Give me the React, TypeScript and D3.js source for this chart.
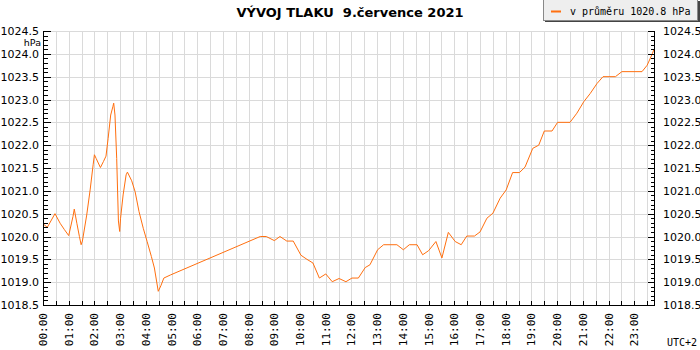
import React, { useEffect, useRef } from 'react';
import * as d3 from 'd3';

// minutes since midnight (UTC+2)
const minutes = [
  0, 10, 28, 40, 50, 60, 70, 73, 79, 85, 89, 92, 102, 110, 117, 120, 124, 134, 141, 147,
  152, 158, 163, 165, 168, 172, 176, 179, 181, 187, 194, 197, 207, 215, 224, 234, 243, 253,
  260, 269, 275, 282, 298, 507, 521, 540, 553, 569, 584, 602, 616, 630, 645, 660, 675, 691,
  707, 721, 736, 752, 763, 781, 795, 826, 841, 855, 873, 886, 900, 917, 931, 946, 962, 976,
  989, 1007, 1020, 1036, 1050, 1067, 1081, 1096, 1112, 1125, 1143, 1157, 1170, 1188, 1201,
  1230, 1246, 1262, 1277, 1293, 1307, 1336, 1351, 1398, 1410, 1422, 1426,
];

// pressure, hPa
const pressure = [
  1020.28, 1020.2, 1020.5, 1020.29, 1020.15, 1020.02, 1020.44, 1020.6, 1020.29, 1020.0,
  1019.82, 1019.9, 1020.47, 1021.02, 1021.57, 1021.79, 1021.71, 1021.51, 1021.64, 1021.76,
  1022.15, 1022.66, 1022.84, 1022.92, 1022.66, 1021.71, 1020.34, 1020.11, 1020.4, 1020.91,
  1021.35, 1021.41, 1021.22, 1020.98, 1020.55, 1020.18, 1019.89, 1019.56, 1019.31, 1018.8,
  1018.92, 1019.09, 1019.16, 1020.0, 1020.0, 1019.91, 1020.0, 1019.9, 1019.9, 1019.59,
  1019.5, 1019.42, 1019.09, 1019.18, 1019.01, 1019.08, 1019.01, 1019.09, 1019.09, 1019.32,
  1019.38, 1019.71, 1019.82, 1019.82, 1019.71, 1019.82, 1019.82, 1019.6, 1019.69, 1019.89,
  1019.53, 1020.09, 1019.89, 1019.82, 1020.01, 1020.01, 1020.1, 1020.4, 1020.51, 1020.84,
  1021.02, 1021.4, 1021.4, 1021.52, 1021.93, 1022.0, 1022.31, 1022.31, 1022.5, 1022.5,
  1022.7, 1022.95, 1023.13, 1023.35, 1023.5, 1023.5, 1023.61, 1023.61, 1023.75, 1024.0,
  1024.1,
];

const hourLabels = [
  '00:00', '01:00', '02:00', '03:00', '04:00', '05:00', '06:00', '07:00', '08:00', '09:00',
  '10:00', '11:00', '12:00', '13:00', '14:00', '15:00', '16:00', '17:00', '18:00', '19:00',
  '20:00', '21:00', '22:00', '23:00',
];

const yMajor = [1018.5, 1019.0, 1019.5, 1020.0, 1020.5, 1021.0, 1021.5, 1022.0, 1022.5, 1023.0, 1023.5, 1024.0, 1024.5];

const title = 'VÝVOJ TLAKU  9.července 2021';
const legendLabel = 'v průměru 1020.8 hPa';
const unitLabel = 'hPa';
const zoneLabel = 'UTC+2';

export default function App() {
  const svgRef = useRef<SVGSVGElement | null>(null);

  useEffect(() => {
    if (!svgRef.current) return;
    const width = 700;
    const height = 350;
    const left = 43;
    const right = 654;
    const top = 31;
    const bottom = 305;
    const lineColor = '#ff6f0f';
    const sans = '"DejaVu Sans", sans-serif';
    const mono = '"DejaVu Sans Mono", monospace';

    const root = d3.select(svgRef.current);
    root.selectAll('*').remove();
    root.attr('width', width).attr('height', height);

    const svg = root.append('g');
    svg.append('rect').attr('width', width).attr('height', height).attr('fill', '#fff');

    const x = d3.scaleLinear().domain([0, minutes[minutes.length - 1]]).range([left, right]);
    const y = d3.scaleLinear().domain([1018.5, 1024.5]).range([bottom, top]);
    const px = (v: number) => Math.round(v) + 0.5;

    // grid
    const halfHours = d3.range(30, minutes[minutes.length - 1], 30);
    svg.append('g').selectAll('line').data(halfHours).enter().append('line')
      .attr('x1', d => px(x(d))).attr('x2', d => px(x(d)))
      .attr('y1', top).attr('y2', bottom)
      .attr('stroke', '#dadada');
    svg.append('g').selectAll('line').data(yMajor.slice(1)).enter().append('line')
      .attr('x1', left).attr('x2', right)
      .attr('y1', d => px(y(d))).attr('y2', d => px(y(d)))
      .attr('stroke', '#dadada');

    // pressure line
    const pts = minutes.map((m, i) => [m, pressure[i]] as [number, number]);
    const line = d3.line<[number, number]>().x(d => x(d[0])).y(d => y(d[1]));
    svg.append('path').datum(pts).attr('d', line)
      .attr('fill', 'none').attr('stroke', lineColor).attr('stroke-width', 1);

    // axes
    const axes = svg.append('g').attr('stroke', '#000').attr('shape-rendering', 'crispEdges');
    axes.append('line').attr('x1', px(left)).attr('x2', px(left)).attr('y1', top).attr('y2', px(bottom));
    axes.append('line').attr('x1', px(right)).attr('x2', px(right)).attr('y1', top).attr('y2', px(bottom));
    axes.append('line').attr('x1', px(left)).attr('x2', px(right)).attr('y1', px(bottom)).attr('y2', px(bottom));

    const yMinor = d3.range(0, 61).map(i => 1018.5 + i * 0.1);
    yMinor.forEach((v, i) => {
      const len = i % 5 === 0 ? 7 : 4;
      const yy = px(y(v));
      axes.append('line').attr('x1', px(left)).attr('x2', px(left) + len).attr('y1', yy).attr('y2', yy);
      axes.append('line').attr('x1', px(right)).attr('x2', px(right) - len).attr('y1', yy).attr('y2', yy);
    });
    halfHours.concat([0]).forEach(m => {
      const xx = px(x(m));
      axes.append('line').attr('x1', xx).attr('x2', xx).attr('y1', px(bottom)).attr('y2', px(bottom) - 5);
    });

    // y labels
    svg.append('g').selectAll('text').data(yMajor).enter().append('text')
      .attr('x', left - 4).attr('y', d => y(d) + 4)
      .attr('text-anchor', 'end')
      .style('font-family', sans).style('font-size', '11px').attr('fill', '#000')
      .text(d => d3.format('.1f')(d));
    svg.append('g').selectAll('text').data(yMajor).enter().append('text')
      .attr('x', right + 9).attr('y', d => y(d) + 4)
      .attr('text-anchor', 'start')
      .style('font-family', sans).style('font-size', '11px').attr('fill', '#000')
      .text(d => d3.format('.1f')(d));
    svg.append('text').attr('x', left - 2).attr('y', 46).attr('text-anchor', 'end')
      .style('font-family', sans).style('font-size', '9.5px').text(unitLabel);

    // x labels
    svg.append('g').selectAll('text').data(hourLabels).enter().append('text')
      .attr('transform', (d, i) => `translate(${x(i * 60) + 4},${bottom + 8}) rotate(-90)`)
      .attr('text-anchor', 'end')
      .style('font-family', mono).style('font-size', '11px').attr('fill', '#000')
      .text(d => d);
    svg.append('text').attr('x', 697).attr('y', 346).attr('text-anchor', 'end')
      .style('font-family', mono).style('font-size', '10px').text(zoneLabel);

    // title
    svg.append('text').attr('x', 350).attr('y', 17).attr('text-anchor', 'middle')
      .style('font-family', sans).style('font-size', '13px').style('font-weight', 'bold')
      .style('white-space', 'pre').text(title);

    // legend
    svg.append('rect').attr('x', 545).attr('y', 1).attr('width', 155).attr('height', 21).attr('fill', '#444');
    svg.append('rect').attr('x', 543.5).attr('y', -0.5).attr('width', 154).attr('height', 21)
      .attr('fill', '#eeeeee').attr('stroke', '#888');
    svg.append('line').attr('x1', 551).attr('x2', 561).attr('y1', 11.5).attr('y2', 11.5)
      .attr('stroke', lineColor).attr('stroke-width', 2);
    svg.append('text').attr('x', 570).attr('y', 15)
      .style('font-family', mono).style('font-size', '10px').text(legendLabel);
  }, []);

  return (
    <div style={{ position: 'absolute', left: 0, top: 0 }}>
      <svg ref={svgRef} style={{ display: 'block' }}></svg>
    </div>
  );
}
